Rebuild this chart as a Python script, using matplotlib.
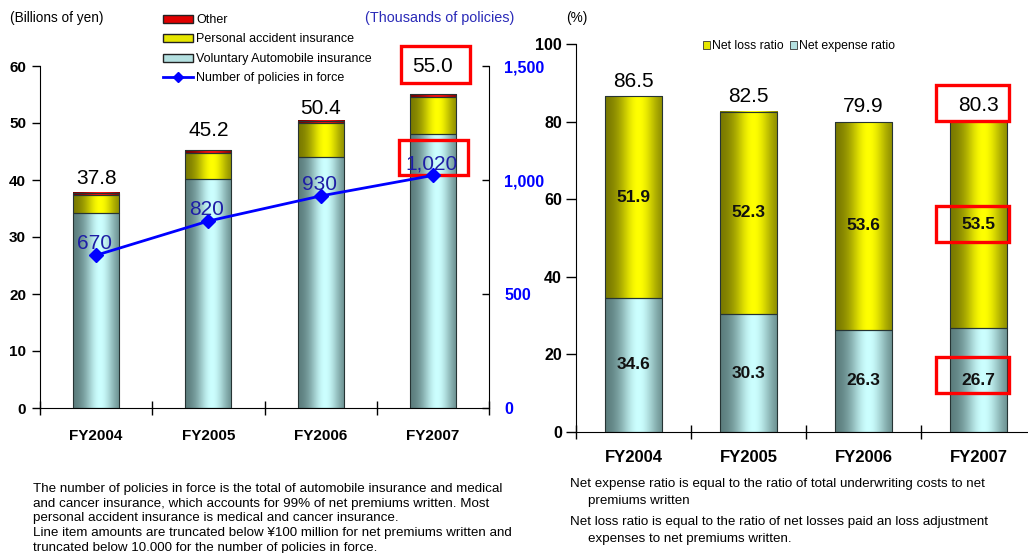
import numpy as np
import matplotlib
matplotlib.use("Agg")
import matplotlib.pyplot as plt
from matplotlib.colors import to_rgb
from matplotlib.lines import Line2D
from matplotlib.patches import Patch, Rectangle
from matplotlib.ticker import FuncFormatter

plt.rcParams["font.family"] = ["Liberation Sans", "DejaVu Sans"]

years = ["FY2004", "FY2005", "FY2006", "FY2007"]

# net premiums written (billions of yen)
auto_premiums = [34.2, 40.1, 44.1, 48.0]
accident_premiums = [3.2, 4.7, 5.9, 6.6]
other_premiums = [0.4, 0.4, 0.4, 0.4]
# number of policies in force (thousands)
policies = [670, 820, 930, 1020]

# combined ratio breakdown (%)
expense_ratio = [34.6, 30.3, 26.3, 26.7]
loss_ratio = [51.9, 52.3, 53.6, 53.5]
combined_ratio = [86.5, 82.5, 79.9, 80.3]

# (dark edge, highlight) pairs for the cylinder look
CYAN = ("#557676", "#ccffff")
YELLOW = ("#727200", "#ffff00")
RED = ("#700000", "#ff1010")
BLUE = "#0000ff"
NAVY = "#1e1ea6"
EDGE = "#263434"


def shade_bars(ax, bars, colors):
    """Fill each bar with a horizontal gradient so it reads like a cylinder."""
    t = np.linspace(0, 1, 120)
    w = np.exp(-((t - 0.58) / 0.33) ** 2)
    c0, c1 = np.array(to_rgb(colors[0])), np.array(to_rgb(colors[1]))
    img = (c0 + (c1 - c0) * w[:, None])[None, :, :]
    for b in bars:
        x, y = b.get_xy()
        ax.imshow(img, extent=(x, x + b.get_width(), y, y + b.get_height()),
                  aspect="auto", interpolation="bilinear", zorder=2)


def stacked(ax, x, heights, bottom, width, colors):
    bars = ax.bar(x, heights, bottom=bottom, width=width, facecolor="none",
                  edgecolor=EDGE, linewidth=0.8, zorder=3)
    shade_bars(ax, bars, colors)
    return bars


def highlight(ax, xc, half_w, y0, y1):
    ax.add_patch(Rectangle((xc - half_w, y0), 2 * half_w, y1 - y0, fill=False,
                           edgecolor="#ff0000", linewidth=2.4, clip_on=False,
                           zorder=8))


def category_axis(ax, pad, size):
    x = np.arange(len(years))
    ax.set_xlim(-0.5, len(years) - 0.5)
    ax.set_xticks(x, years)
    ax.set_xticks(np.arange(-0.5, len(years)), minor=True)
    ax.tick_params(axis="x", which="major", length=0, pad=pad, labelsize=size)
    ax.tick_params(axis="x", which="minor", direction="inout", length=10, width=1)
    for lbl in ax.get_xticklabels():
        lbl.set_fontweight("bold")


fig = plt.figure(figsize=(10.28, 5.53), dpi=100)
x = np.arange(len(years))

# ---- left: premiums + policies in force ----
ax1 = fig.add_axes([40 / 1028, 1 - 408 / 553, 449 / 1028, 342 / 553])
auto_top = np.array(auto_premiums)
acc_top = auto_top + np.array(accident_premiums)
stacked(ax1, x, auto_premiums, 0, 0.41, CYAN)
stacked(ax1, x, accident_premiums, auto_top, 0.41, YELLOW)
stacked(ax1, x, other_premiums, acc_top, 0.41, RED)
totals = acc_top + np.array(other_premiums)

category_axis(ax1, 15, 11)
ax1.set_ylim(0, 60)
ax1.set_yticks(range(0, 61, 10))
ax1.tick_params(axis="y", direction="out", length=6, width=1, pad=4, labelsize=11)
for lbl in ax1.get_yticklabels():
    lbl.set_fontweight("bold")
for s in ("top", "right"):
    ax1.spines[s].set_visible(False)

label_pads = [6, 10.5, 4.5, 16]
for i, tot in enumerate(totals):
    ax1.annotate(f"{tot:.1f}", xy=(i, tot), xytext=(0, label_pads[i]),
                 textcoords="offset points", ha="center", va="baseline",
                 fontsize=15, zorder=7)

ax2 = ax1.twinx()
ax2.set_ylim(0, 1500)
ax2.set_yticks([0, 500, 1000, 1500])
ax2.yaxis.set_major_formatter(FuncFormatter(lambda v, _: f"{int(v):,}"))
ax2.tick_params(axis="y", direction="in", length=5, width=1, pad=11,
                labelsize=11.5, labelcolor=BLUE)
for lbl in ax2.get_yticklabels():
    lbl.set_fontweight("bold")
for s in ("top", "left", "bottom"):
    ax2.spines[s].set_visible(False)
ax2.plot(x, policies, color=BLUE, linewidth=2, marker="D", markersize=7, zorder=5)
for i, v in enumerate(policies):
    ax2.annotate(f"{v:,}", xy=(i, v), xytext=(-1, 4.5), textcoords="offset points",
                 ha="center", va="baseline", fontsize=15, color=NAVY, zorder=7)

highlight(ax1, 3.023, 0.307, 57.0, 63.5)
highlight(ax1, 3.006, 0.307, 40.9, 47.0)

legend_handles = [
    Patch(facecolor="#e00000", edgecolor="#222222", label="Other"),
    Patch(facecolor="#e6e600", edgecolor="#222222", label="Personal accident insurance"),
    Patch(facecolor="#b4e0e0", edgecolor="#222222", label="Voluntary Automobile insurance"),
    Line2D([], [], color=BLUE, linewidth=2, marker="D", markersize=5,
           label="Number of policies in force"),
]
fig.legend(handles=legend_handles, loc="upper left", bbox_to_anchor=(163 / 1028, 1 - 14 / 553),
           frameon=False, fontsize=9, handlelength=2.4, handleheight=0.6,
           handletextpad=0.25, labelspacing=0.6, borderpad=0, borderaxespad=0)

# ---- right: loss / expense ratios ----
ax3 = fig.add_axes([576 / 1028, 1 - 432 / 553, 460 / 1028, 388 / 553])
stacked(ax3, x, expense_ratio, 0, 0.5, CYAN)
stacked(ax3, x, loss_ratio, expense_ratio, 0.5, YELLOW)

category_axis(ax3, 13, 12)
ax3.set_ylim(0, 100)
ax3.set_yticks(range(0, 101, 20))
ax3.tick_params(axis="y", direction="out", length=7, width=1, pad=3, labelsize=11.5)
for lbl in ax3.get_yticklabels():
    lbl.set_fontweight("bold")
for s in ("top", "right"):
    ax3.spines[s].set_visible(False)

for i in range(len(years)):
    e, l = expense_ratio[i], loss_ratio[i]
    ax3.text(i, e / 2, f"{e:.1f}", ha="center", va="center", fontsize=12.5,
             fontweight="bold", color="#111111", zorder=7)
    ax3.text(i, e + l / 2, f"{l:.1f}", ha="center", va="center", fontsize=12.5,
             fontweight="bold", color="#111111", zorder=7)
    ax3.annotate(f"{combined_ratio[i]:.1f}", xy=(i, e + l), xytext=(0, 7),
                 textcoords="offset points", ha="center", va="baseline",
                 fontsize=15, zorder=7)

highlight(ax3, 2.948, 0.317, 80.2, 89.4)
highlight(ax3, 2.948, 0.317, 49.0, 58.2)
highlight(ax3, 2.948, 0.317, 10.1, 19.3)

ratio_handles = [
    Patch(facecolor="#e6e600", edgecolor="#333333", linewidth=0.6, label="Net loss ratio"),
    Patch(facecolor="#b4e0e0", edgecolor="#333333", linewidth=0.6, label="Net expense ratio"),
]
fig.legend(handles=ratio_handles, loc="center left", bbox_to_anchor=(703 / 1028, 1 - 46 / 553),
           ncol=2, frameon=False, fontsize=8.8, handlelength=0.6, handleheight=0.6,
           handletextpad=0.15, columnspacing=0.5, borderpad=0, borderaxespad=0)

# ---- headers and notes ----
fig.text(10 / 1028, 1 - 18 / 553, "(Billions of yen)", fontsize=9.8, va="center")
fig.text(365 / 1028, 1 - 18 / 553, "(Thousands of policies)", fontsize=10.4,
         va="center", color="#2b2bb8")
fig.text(566 / 1028, 1 - 18 / 553, "(%)", fontsize=9.8, va="center")

note_font = ["Liberation Sans Narrow", "Liberation Sans", "DejaVu Sans"]
left_notes = [
    (489, "The number of policies in force is the total of automobile insurance and medical"),
    (503.5, "and cancer insurance, which accounts for 99% of net premiums written. Most"),
    (518, "personal accident insurance is medical and cancer insurance."),
    (533, "Line item amounts are truncated below ¥100 million for net premiums written and"),
    (548, "truncated below 10.000 for the number of policies in force."),
]
for y, line in left_notes:
    fig.text(33 / 1028, 1 - y / 553, line, fontsize=9.6, va="center", family=note_font)

right_notes = [
    (570, 484, "Net expense ratio is equal to the ratio of total underwriting costs to net"),
    (588, 501, "premiums written"),
    (570, 522, "Net loss ratio is equal to the ratio of net losses paid an loss adjustment"),
    (588, 539, "expenses to net premiums written."),
]
for xp, y, line in right_notes:
    fig.text(xp / 1028, 1 - y / 553, line, fontsize=9.6, va="center", family=note_font)

fig.savefig("out.png", dpi=100)
